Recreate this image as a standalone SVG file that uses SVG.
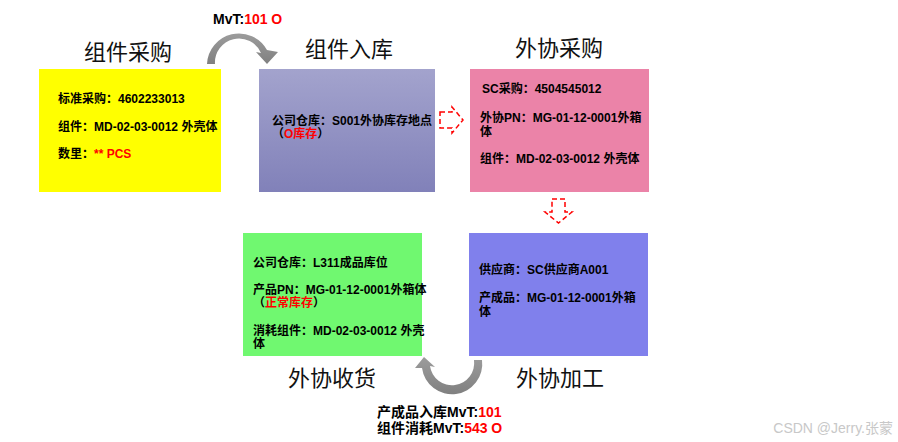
<svg xmlns="http://www.w3.org/2000/svg" width="898" height="442" viewBox="0 0 898 442">
<defs>
<linearGradient id="gPurple" x1="0" y1="0" x2="0" y2="1">
<stop offset="0" stop-color="#a3a3cd"/>
<stop offset="1" stop-color="#8181b9"/>
</linearGradient>
<linearGradient id="gGray" x1="0" y1="0" x2="0" y2="1">
<stop offset="0" stop-color="#9c9c9c"/>
<stop offset="1" stop-color="#808080"/>
</linearGradient>
<style>
.t{font-family:"Liberation Sans","Noto Sans CJK SC",sans-serif;font-size:12px;font-weight:bold;fill:#000}
.r{fill:#ff0000}
.title{font-family:"Liberation Serif","Noto Sans CJK SC",serif;font-size:22px;fill:#111;text-anchor:middle}
.mvt{font-family:"Liberation Sans","Noto Sans CJK SC",sans-serif;font-size:14px;font-weight:bold;fill:#000}
.curve{fill:url(#gGray);stroke:none}
.dash{fill:none;stroke:#ff0000;stroke-width:1.5;stroke-dasharray:5 3}
</style>
</defs>
<rect width="898" height="442" fill="#ffffff"/>

<g id="titles">
<text class="title" x="128" y="60">组件采购</text>
<text class="title" x="349" y="57">组件入库</text>
<text class="title" x="559" y="56">外协采购</text>
<text class="title" x="560" y="386">外协加工</text>
<text class="title" x="332" y="386">外协收货</text>
</g>

<g id="node-purchase">
<rect x="39" y="69" width="182" height="123" fill="#ffff00"/>
<text class="t" x="58" y="103">标准采购：4602233013</text>
<text class="t" x="58" y="131">组件：MD-02-03-0012 外壳体</text>
<text class="t" x="58" y="158">数里：<tspan class="r">** PCS</tspan></text>
</g>

<g id="node-inbound">
<rect x="259" y="69" width="176" height="123" fill="url(#gPurple)"/>
<text class="t" x="272" y="125">公司仓库：S001外协库存地点</text>
<text class="t" x="272" y="138">（<tspan class="r">O库存</tspan>）</text>
</g>

<g id="node-sc-purchase">
<rect x="470" y="69" width="179" height="123" fill="#eb83a8"/>
<text class="t" x="482" y="93">SC采购：4504545012</text>
<text class="t" x="480" y="122">外协PN：MG-01-12-0001外箱</text>
<text class="t" x="480" y="136">体</text>
<text class="t" x="480" y="163">组件：MD-02-03-0012 外壳体</text>
</g>

<g id="node-processing">
<rect x="469" y="233" width="179" height="123" fill="#8080ec"/>
<text class="t" x="479" y="274">供应商：SC供应商A001</text>
<text class="t" x="479" y="302">产成品：MG-01-12-0001外箱</text>
<text class="t" x="479" y="316">体</text>
</g>

<g id="node-receipt">
<rect x="243" y="233" width="179" height="123" fill="#70f870"/>
<text class="t" x="253" y="267">公司仓库：L311成品库位</text>
<text class="t" x="253" y="294">产品PN：MG-01-12-0001外箱体</text>
<text class="t" x="253" y="307">（<tspan class="r">正常库存</tspan>）</text>
<text class="t" x="253" y="335">消耗组件：MD-02-03-0012 外壳</text>
<text class="t" x="253" y="348">体</text>
</g>

<g id="connectors">
<path class="curve" d="M207,64 A32,32 0 0 1 267,50 L278,52 L267,64 L256,52 L261,53 A24,24 0 0 0 215,64 Z"/>
<text class="mvt" x="213" y="24">MvT:<tspan class="r">101 O</tspan></text>
<path class="curve" d="M482,360 A30,30 0 0 1 422,368 L415,368 L424,357 L435,367 L430,366 A22,22 0 0 0 474,360 Z"/>
<text class="mvt" x="377" y="417">产成品入库MvT:<tspan class="r">101</tspan></text>
<text class="mvt" x="377" y="433">组件消耗MvT:<tspan class="r">543 O</tspan></text>
<path class="dash" d="M440,112 L452,112 L452,107 L463,120 L452,133 L452,128 L440,128 Z"/>
<path class="dash" d="M552,199 L565,199 L565,212 L572,212 L558.5,223 L545,212 L552,212 Z"/>
</g>

<text x="893" y="433" text-anchor="end" style="font-family:'Liberation Sans','Noto Sans CJK SC',sans-serif;font-size:14px;fill:#c8c8c8">CSDN @Jerry.张蒙</text>
</svg>
